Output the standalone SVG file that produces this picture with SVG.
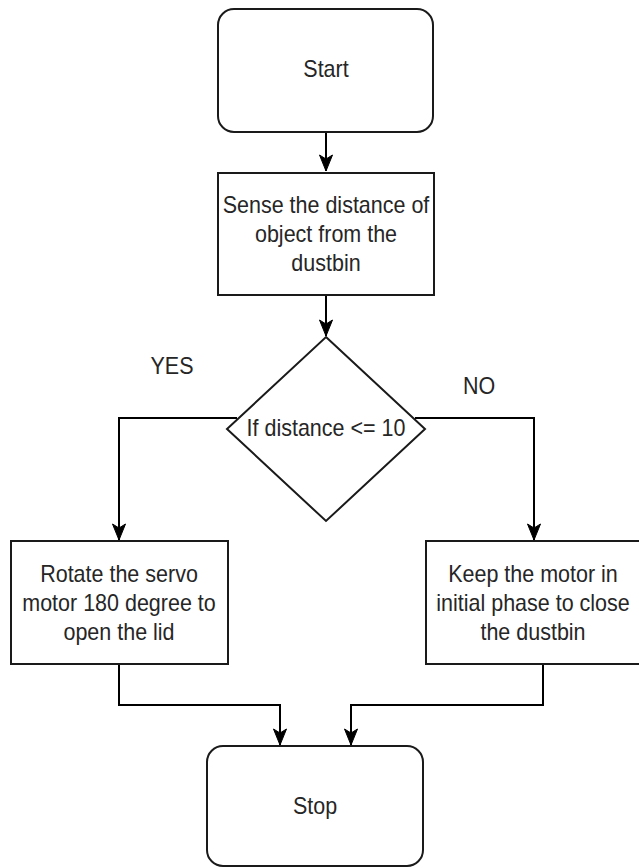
<svg xmlns="http://www.w3.org/2000/svg" width="639" height="868" viewBox="0 0 639 868">
<defs>
<style>
.shape{fill:#ffffff;stroke:#1a1a1a;stroke-width:2}
.conn{fill:none;stroke:#000000;stroke-width:2}
.t{font-family:"Liberation Sans",Arial,Helvetica,sans-serif;font-size:24px;fill:#262626;text-anchor:middle}
</style>
<marker id="arr" markerUnits="userSpaceOnUse" markerWidth="20" markerHeight="16" viewBox="-17 -8 18 16" refX="0" refY="0" orient="auto">
<path d="M0,0 L-16,-6.5 L-12,0 L-16,6.5 Z" fill="#000000" stroke="#000000" stroke-width="1"/>
</marker>
</defs>
<rect width="639" height="868" fill="#ffffff"/>
<g id="connectors">
<path class="conn" d="M326,132 L326,171" marker-end="url(#arr)"/>
<path class="conn" d="M326,295 L326,336" marker-end="url(#arr)"/>
<path class="conn" d="M237,418 L119,418 L119,540" marker-end="url(#arr)"/>
<path class="conn" d="M415,418 L534,418 L534,540" marker-end="url(#arr)"/>
<path class="conn" d="M119,664 L119,705 L280,705 L280,745" marker-end="url(#arr)"/>
<path class="conn" d="M543,664 L543,705 L351,705 L351,745" marker-end="url(#arr)"/>
</g>
<g id="start">
<rect class="shape" x="218" y="9" width="215" height="123" rx="16" ry="16"/>
<text class="t" transform="translate(326,77) scale(0.896,1)">Start</text>
</g>
<g id="sense">
<rect class="shape" x="218" y="173" width="216" height="122"/>
<text class="t" transform="translate(326,212.5) scale(0.896,1)">Sense the distance of</text>
<text class="t" transform="translate(326,241.5) scale(0.896,1)">object from the</text>
<text class="t" transform="translate(326,270.5) scale(0.896,1)">dustbin</text>
</g>
<g id="decision">
<polygon class="shape" points="326,337 425,429 326,521 227,429"/>
<text class="t" transform="translate(326,436) scale(0.896,1)">If distance &lt;= 10</text>
</g>
<g id="yes-label">
<text class="t" transform="translate(172,374) scale(0.896,1)">YES</text>
</g>
<g id="no-label">
<text class="t" transform="translate(479,394) scale(0.896,1)">NO</text>
</g>
<g id="rotate">
<rect class="shape" x="11" y="541" width="217" height="123"/>
<text class="t" transform="translate(119,581.5) scale(0.896,1)">Rotate the servo</text>
<text class="t" transform="translate(119,610.5) scale(0.896,1)">motor 180 degree to</text>
<text class="t" transform="translate(119,639.5) scale(0.896,1)">open the lid</text>
</g>
<g id="keep">
<rect class="shape" x="426" y="541" width="217" height="123"/>
<text class="t" transform="translate(533,581.5) scale(0.896,1)">Keep the motor in</text>
<text class="t" transform="translate(533,610.5) scale(0.896,1)">initial phase to close</text>
<text class="t" transform="translate(533,639.5) scale(0.896,1)">the dustbin</text>
</g>
<g id="stop">
<rect class="shape" x="207" y="746" width="216" height="120" rx="16" ry="16"/>
<text class="t" transform="translate(315,814) scale(0.896,1)">Stop</text>
</g>
</svg>
